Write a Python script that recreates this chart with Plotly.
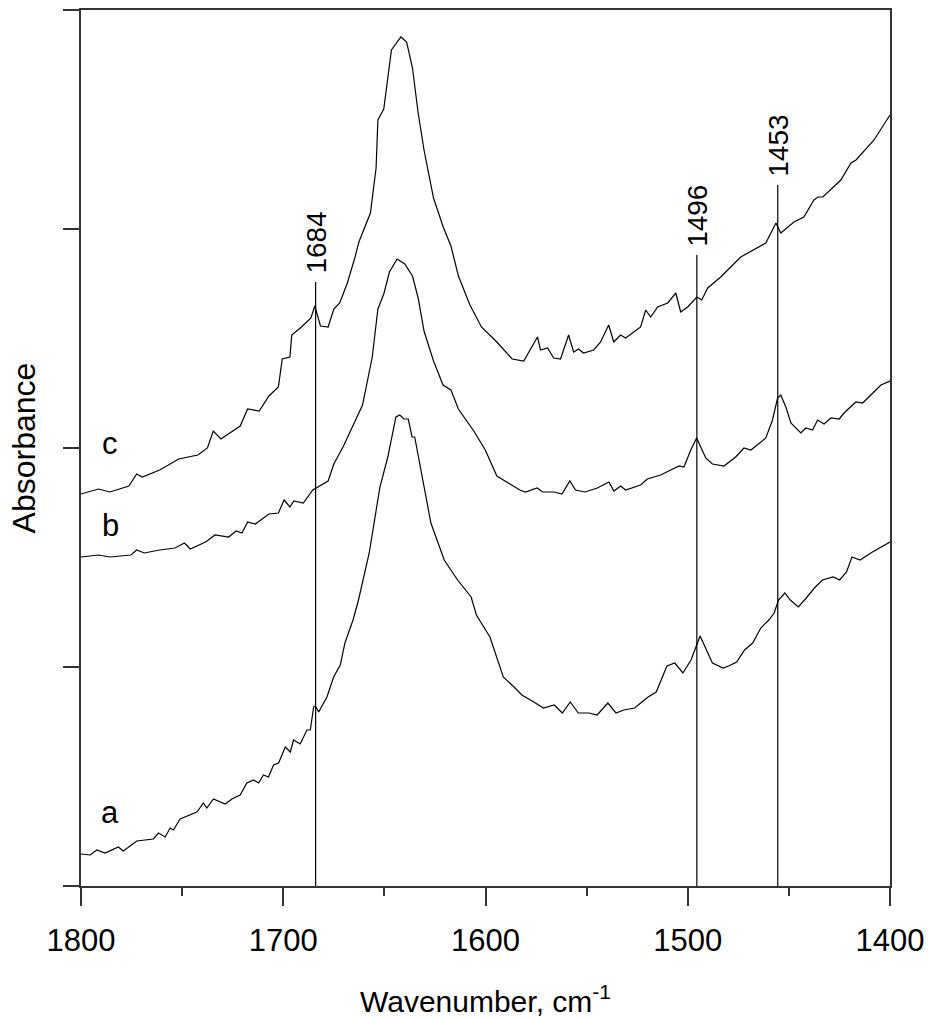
import plotly.graph_objects as go

# ---- data (wavenumber in cm-1, absorbance in arbitrary units) ----
wn_a = [1800, 1795.5, 1792.2, 1788.1, 1781.5, 1779.1, 1772.4, 1764.2, 1761.7, 1758.4, 1755.9, 1754.3,
        1751, 1742.7, 1739.5, 1737.8, 1734.5, 1728.7, 1725.4, 1721.3, 1718, 1714.7, 1712.2, 1709.8,
        1707.3, 1704.8, 1702.3, 1699, 1696.5, 1694.9, 1691.6, 1688.3, 1686.6, 1685, 1684.2, 1682.5,
        1678.4, 1675.1, 1671.8, 1669.5, 1665.5, 1662.8, 1657.5, 1652.2, 1648.3, 1644.3, 1642.4, 1640.3,
        1638.2, 1636.3, 1635, 1627, 1620.4, 1613.8, 1607.1, 1604.5, 1597.8, 1591.2, 1585.9, 1582,
        1575.3, 1571.4, 1566, 1562, 1558.1, 1554.1, 1548.8, 1544.8, 1539.5, 1535.5, 1531.6, 1526.3,
        1519.6, 1515.6, 1510.3, 1506.4, 1502.4, 1498.4, 1493.9, 1487.8, 1482.5, 1479.8, 1475.8, 1471.9,
        1467.9, 1463.9, 1459.9, 1457.3, 1455.1, 1452, 1449.3, 1445.3, 1441.4, 1437.4, 1433.4, 1428.1,
        1424.9, 1421.5, 1418.8, 1414.8, 1409.5, 1404.2, 1400]
abs_a = [32, 31, 36, 33, 39, 35, 45, 47, 53, 49, 58, 56,
         67, 74, 83, 78, 87, 82, 87, 91, 103, 106, 103, 111,
         109, 121, 123, 139, 134, 146, 142, 156, 156, 179, 180, 174,
         189, 209, 221, 243, 266, 286, 333, 399, 429, 469, 471, 467,
         467, 449, 449, 363, 326, 306, 289, 271, 249, 209, 199, 191,
         183, 178, 181, 173, 184, 173, 173, 171, 183, 173, 176, 178,
         189, 194, 220, 223, 213, 226, 250, 223, 218, 220, 224, 236,
         243, 258, 266, 273, 286, 293, 286, 279, 288, 298, 306, 309,
         306, 314, 329, 326, 333, 339, 344]

wn_b = [1800, 1791.4, 1785.7, 1775.3, 1772.5, 1768.7, 1761.1, 1753.6, 1748.8, 1746, 1738.4, 1733.7,
        1727, 1723.3, 1720.4, 1717.6, 1713.8, 1707.1, 1702.4, 1699.6, 1696.7, 1694.8, 1690.1, 1685.4,
        1677.8, 1675, 1670.2, 1664.5, 1660.8, 1656, 1653.2, 1650.3, 1647.5, 1643.7, 1639.9, 1636.1,
        1633.3, 1630.4, 1625.7, 1621, 1617.1, 1613.4, 1605.8, 1600.1, 1594.4, 1588.7, 1583, 1580.2,
        1574.5, 1571.7, 1566, 1562.2, 1558.3, 1555.5, 1550.8, 1544.7, 1539, 1536.5, 1533.2, 1530.7,
        1523.3, 1520, 1513.4, 1508.4, 1504.3, 1501.9, 1498.5, 1495.6, 1493.6, 1491.1, 1487.8, 1482.1,
        1476.3, 1472.2, 1468.8, 1463.1, 1461.4, 1458.1, 1455.6, 1454, 1451.5, 1449, 1444.1, 1441.6,
        1438.3, 1435.8, 1432.6, 1429.2, 1425.1, 1422.7, 1416.9, 1413.5, 1409.4, 1404.5, 1400]
abs_b = [329, 331, 329, 331, 336, 333, 336, 338, 343, 337, 344, 351,
         349, 355, 353, 364, 362, 372, 373, 386, 379, 385, 383, 396,
         405, 422, 440, 464, 481, 529, 577, 592, 614, 627, 622, 610,
         588, 555, 525, 501, 496, 477, 455, 436, 410, 403, 396, 394,
         398, 394, 394, 392, 405, 396, 394, 398, 404, 395, 400, 396,
         401, 407, 411, 416, 420, 419, 436, 448, 439, 428, 422, 420,
         429, 438, 436, 446, 448, 466, 488, 491, 479, 463, 453, 458,
         456, 466, 462, 468, 467, 473, 484, 483, 491, 501, 505]

wn_c = [1800, 1791.4, 1785.7, 1776.3, 1772.5, 1769.7, 1761.1, 1751.7, 1742.2, 1737.5, 1734.6, 1730.8,
        1721.3, 1717.6, 1711.9, 1707.1, 1702.4, 1700.5, 1696.7, 1695.8, 1691.0, 1686.3, 1684.4, 1681.6,
        1677.8, 1675.0, 1672.1, 1668.3, 1664.5, 1662.6, 1656.9, 1654.1, 1653.2, 1650.3, 1646.5, 1641.8,
        1639.0, 1636.1, 1633.3, 1630.4, 1625.7, 1620.9, 1617.1, 1613.4, 1607.7, 1602.0, 1594.4, 1586.8,
        1581.1, 1574.3, 1572.8, 1569.3, 1566.3, 1562.9, 1558.9, 1556.4, 1554.0, 1551.5, 1546.5, 1543.1,
        1539.1, 1536.6, 1533.2, 1530.7, 1523.3, 1520.8, 1518.3, 1514.9, 1509.9, 1505.9, 1503.5, 1500.0,
        1495.5, 1493.1, 1490.1, 1483.7, 1473.8, 1470.3, 1465.3, 1461.4, 1456.4, 1454.0, 1447.5, 1442.6,
        1437.6, 1435.6, 1433.2, 1424.3, 1419.3, 1416.8, 1407.9, 1400]
abs_c = [392, 397, 394, 400, 412, 409, 416, 427, 431, 438, 455, 447,
         460, 477, 475, 490, 499, 527, 529, 551, 559, 568, 580, 560,
         559, 577, 583, 603, 629, 644, 673, 718, 766, 777, 836, 849,
         844, 818, 773, 736, 688, 659, 640, 610, 581, 559, 544, 527,
         525, 549, 536, 538, 528, 527, 551, 534, 537, 533, 536, 544,
         561, 544, 551, 548, 559, 576, 569, 579, 583, 593, 574, 579,
         589, 586, 598, 609, 629, 633, 639, 643, 663, 653, 664, 669,
         686, 689, 689, 706, 723, 726, 746, 771]

series = [("a", wn_a, abs_a), ("b", wn_b, abs_b), ("c", wn_c, abs_c)]

# curve labels
curve_labels = ["a", "b", "c"]
curve_label_x = [1785.6, 1785.6, 1785.6]
curve_label_y = [74, 361, 443]

# marker lines
marker_pos = [1684, 1495.5, 1455.5]
marker_top = [604, 631, 701]
marker_text = ["1684", "1496", "1453"]

y_ticks = [0, 219, 438, 657, 876]
x_ticks = [1800, 1700, 1600, 1500, 1400]

FONT = "Arial, Liberation Sans, sans-serif"
fig = go.Figure()

for name, xs, ys in series:
    fig.add_trace(go.Scatter(x=xs, y=ys, mode="lines", name=name,
                             line=dict(color="black", width=1.2), showlegend=False))

for xp, yt, tx in zip(marker_pos, marker_top, marker_text):
    fig.add_trace(go.Scatter(x=[xp, xp], y=[y_ticks[0], yt], mode="lines",
                             line=dict(color="black", width=1.2), showlegend=False))
    fig.add_annotation(x=xp, y=yt, xref="x", yref="y", text=tx, showarrow=False,
                       textangle=-90, yanchor="bottom", xanchor="center", yshift=6,
                       font=dict(family=FONT, size=28, color="black"))

for t, xl, yl in zip(curve_labels, curve_label_x, curve_label_y):
    fig.add_annotation(x=xl, y=yl, xref="x", yref="y", text=t, showarrow=False,
                       xanchor="center", yanchor="middle",
                       font=dict(family=FONT, size=31, color="black"))

fig.update_layout(
    width=929, height=1018,
    margin=dict(l=81, r=39, t=10, b=132),
    paper_bgcolor="white", plot_bgcolor="white",
    font=dict(family=FONT, color="black"),
)
fig.update_xaxes(
    range=[1800, 1400], tickvals=x_ticks, automargin=False,
    ticks="outside", ticklen=18, tickwidth=1.5, tickcolor="#333",
    ticklabelstandoff=8,
    minor=dict(dtick=50, tick0=1800, ticks="outside", ticklen=8, tickwidth=1.5, tickcolor="#333"),
    showline=True, linecolor="#333", linewidth=1.5, mirror=True,
    showgrid=False, zeroline=False,
    tickfont=dict(family=FONT, size=31, color="black"),
    title=dict(text="Wavenumber, cm<sup>-1</sup>", font=dict(family=FONT, size=30, color="black"),
               standoff=36),
)
fig.update_yaxes(
    range=[0, 876], tickvals=y_ticks, showticklabels=False, automargin=False,
    ticks="outside", ticklen=16, tickwidth=1.5, tickcolor="#333",
    showline=True, linecolor="#333", linewidth=1.5, mirror=True,
    showgrid=False, zeroline=False,
    title=dict(text="Absorbance", font=dict(family=FONT, size=32, color="black"), standoff=18),
)

fig.write_html("out.html")
